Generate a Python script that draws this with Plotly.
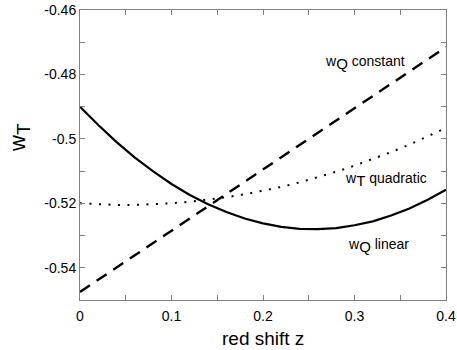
import plotly.graph_objects as go

z = [0.00, 0.02, 0.04, 0.06, 0.08, 0.10, 0.12, 0.14, 0.16, 0.18, 0.20,
     0.22, 0.24, 0.26, 0.28, 0.30, 0.32, 0.34, 0.36, 0.38, 0.40]

# w_Q linear (solid)
w_linear = [-0.4900, -0.4957, -0.5010, -0.5058, -0.5101, -0.5140, -0.5174,
            -0.5203, -0.5227, -0.5247, -0.5262, -0.5273, -0.5279, -0.5280,
            -0.5277, -0.5268, -0.5256, -0.5238, -0.5216, -0.5189, -0.5158]

# w_T quadratic (dotted)
w_quadratic = [-0.5200, -0.5203, -0.5205, -0.5205, -0.5203, -0.5200, -0.5195,
               -0.5189, -0.5181, -0.5172, -0.5161, -0.5149, -0.5135, -0.5119,
               -0.5102, -0.5083, -0.5063, -0.5041, -0.5018, -0.4992, -0.4966]

# w_Q constant (dashed)
z_const = [0.0, 0.4]
w_const = [-0.5475, -0.4715]

fig = go.Figure()
fig.add_trace(go.Scatter(x=z, y=w_linear, mode="lines",
                         line=dict(color="black", width=2.2)))
fig.add_trace(go.Scatter(x=z, y=w_quadratic, mode="lines",
                         line=dict(color="black", width=2, dash="2px,7.5px")))
fig.add_trace(go.Scatter(x=z_const, y=w_const, mode="lines",
                         line=dict(color="black", width=2.4, dash="12px,8px")))

font = "Liberation Sans, Arial, sans-serif"


def sub(s, size):
    return f'<sub><span style="font-size:{size}px">{s}</span></sub>'


labels = [
    (0.2656, -0.4755, "w" + sub("Q", 15) + " constant"),
    (0.2874, -0.5118, "w" + sub("T", 15) + " quadratic"),
    (0.2907, -0.5323, "w" + sub("Q", 15) + " linear"),
]
for x, y, t in labels:
    fig.add_annotation(x=x, y=y, text=t, showarrow=False, xanchor="left",
                       yanchor="middle", yshift=-3,
                       font=dict(family=font, size=14, color="black"))

# axis titles
fig.add_annotation(xref="paper", yref="paper", x=0.5, y=0, yshift=-38,
                   xanchor="center", yanchor="middle",
                   text="red shift z", showarrow=False,
                   font=dict(family=font, size=19, color="black"))
fig.add_annotation(xref="paper", yref="paper", x=0, y=0.559, xshift=-60,
                   xanchor="center", yanchor="middle",
                   text="w" + sub("T", 19), showarrow=False, textangle=-90,
                   font=dict(family=font, size=22, color="black"))

axis = dict(showline=True, linecolor="#808080", linewidth=1, mirror="ticks",
            ticks="inside", ticklen=5, tickcolor="#808080", showgrid=False,
            zeroline=False, automargin=False,
            tickfont=dict(family=font, size=14, color="black"))

fig.update_layout(
    width=457, height=350,
    margin=dict(l=80, r=11, t=10, b=50),
    plot_bgcolor="white", paper_bgcolor="white",
    showlegend=False,
    xaxis=dict(axis, range=[0, 0.4], tickvals=[0, 0.1, 0.2, 0.3, 0.4],
               ticktext=["0", "0.1", "0.2", "0.3", "0.4"], ticklabelstandoff=3,
               minor=dict(ticks="inside", ticklen=5, tickcolor="#808080", dtick=0.05)),
    yaxis=dict(axis, range=[-0.55, -0.46],
               tickvals=[-0.54, -0.52, -0.5, -0.48, -0.46],
               ticktext=["-0.54", "-0.52", "-0.5", "-0.48", "-0.46"],
               minor=dict(ticks="inside", ticklen=5, tickcolor="#808080", dtick=0.01,
                          tick0=-0.55)),
)

# drop the default page margin so the figure sits at the window's corner
fig.write_html("out.html", config={"displayModeBar": False},
               post_script="document.body.style.margin='0';")
